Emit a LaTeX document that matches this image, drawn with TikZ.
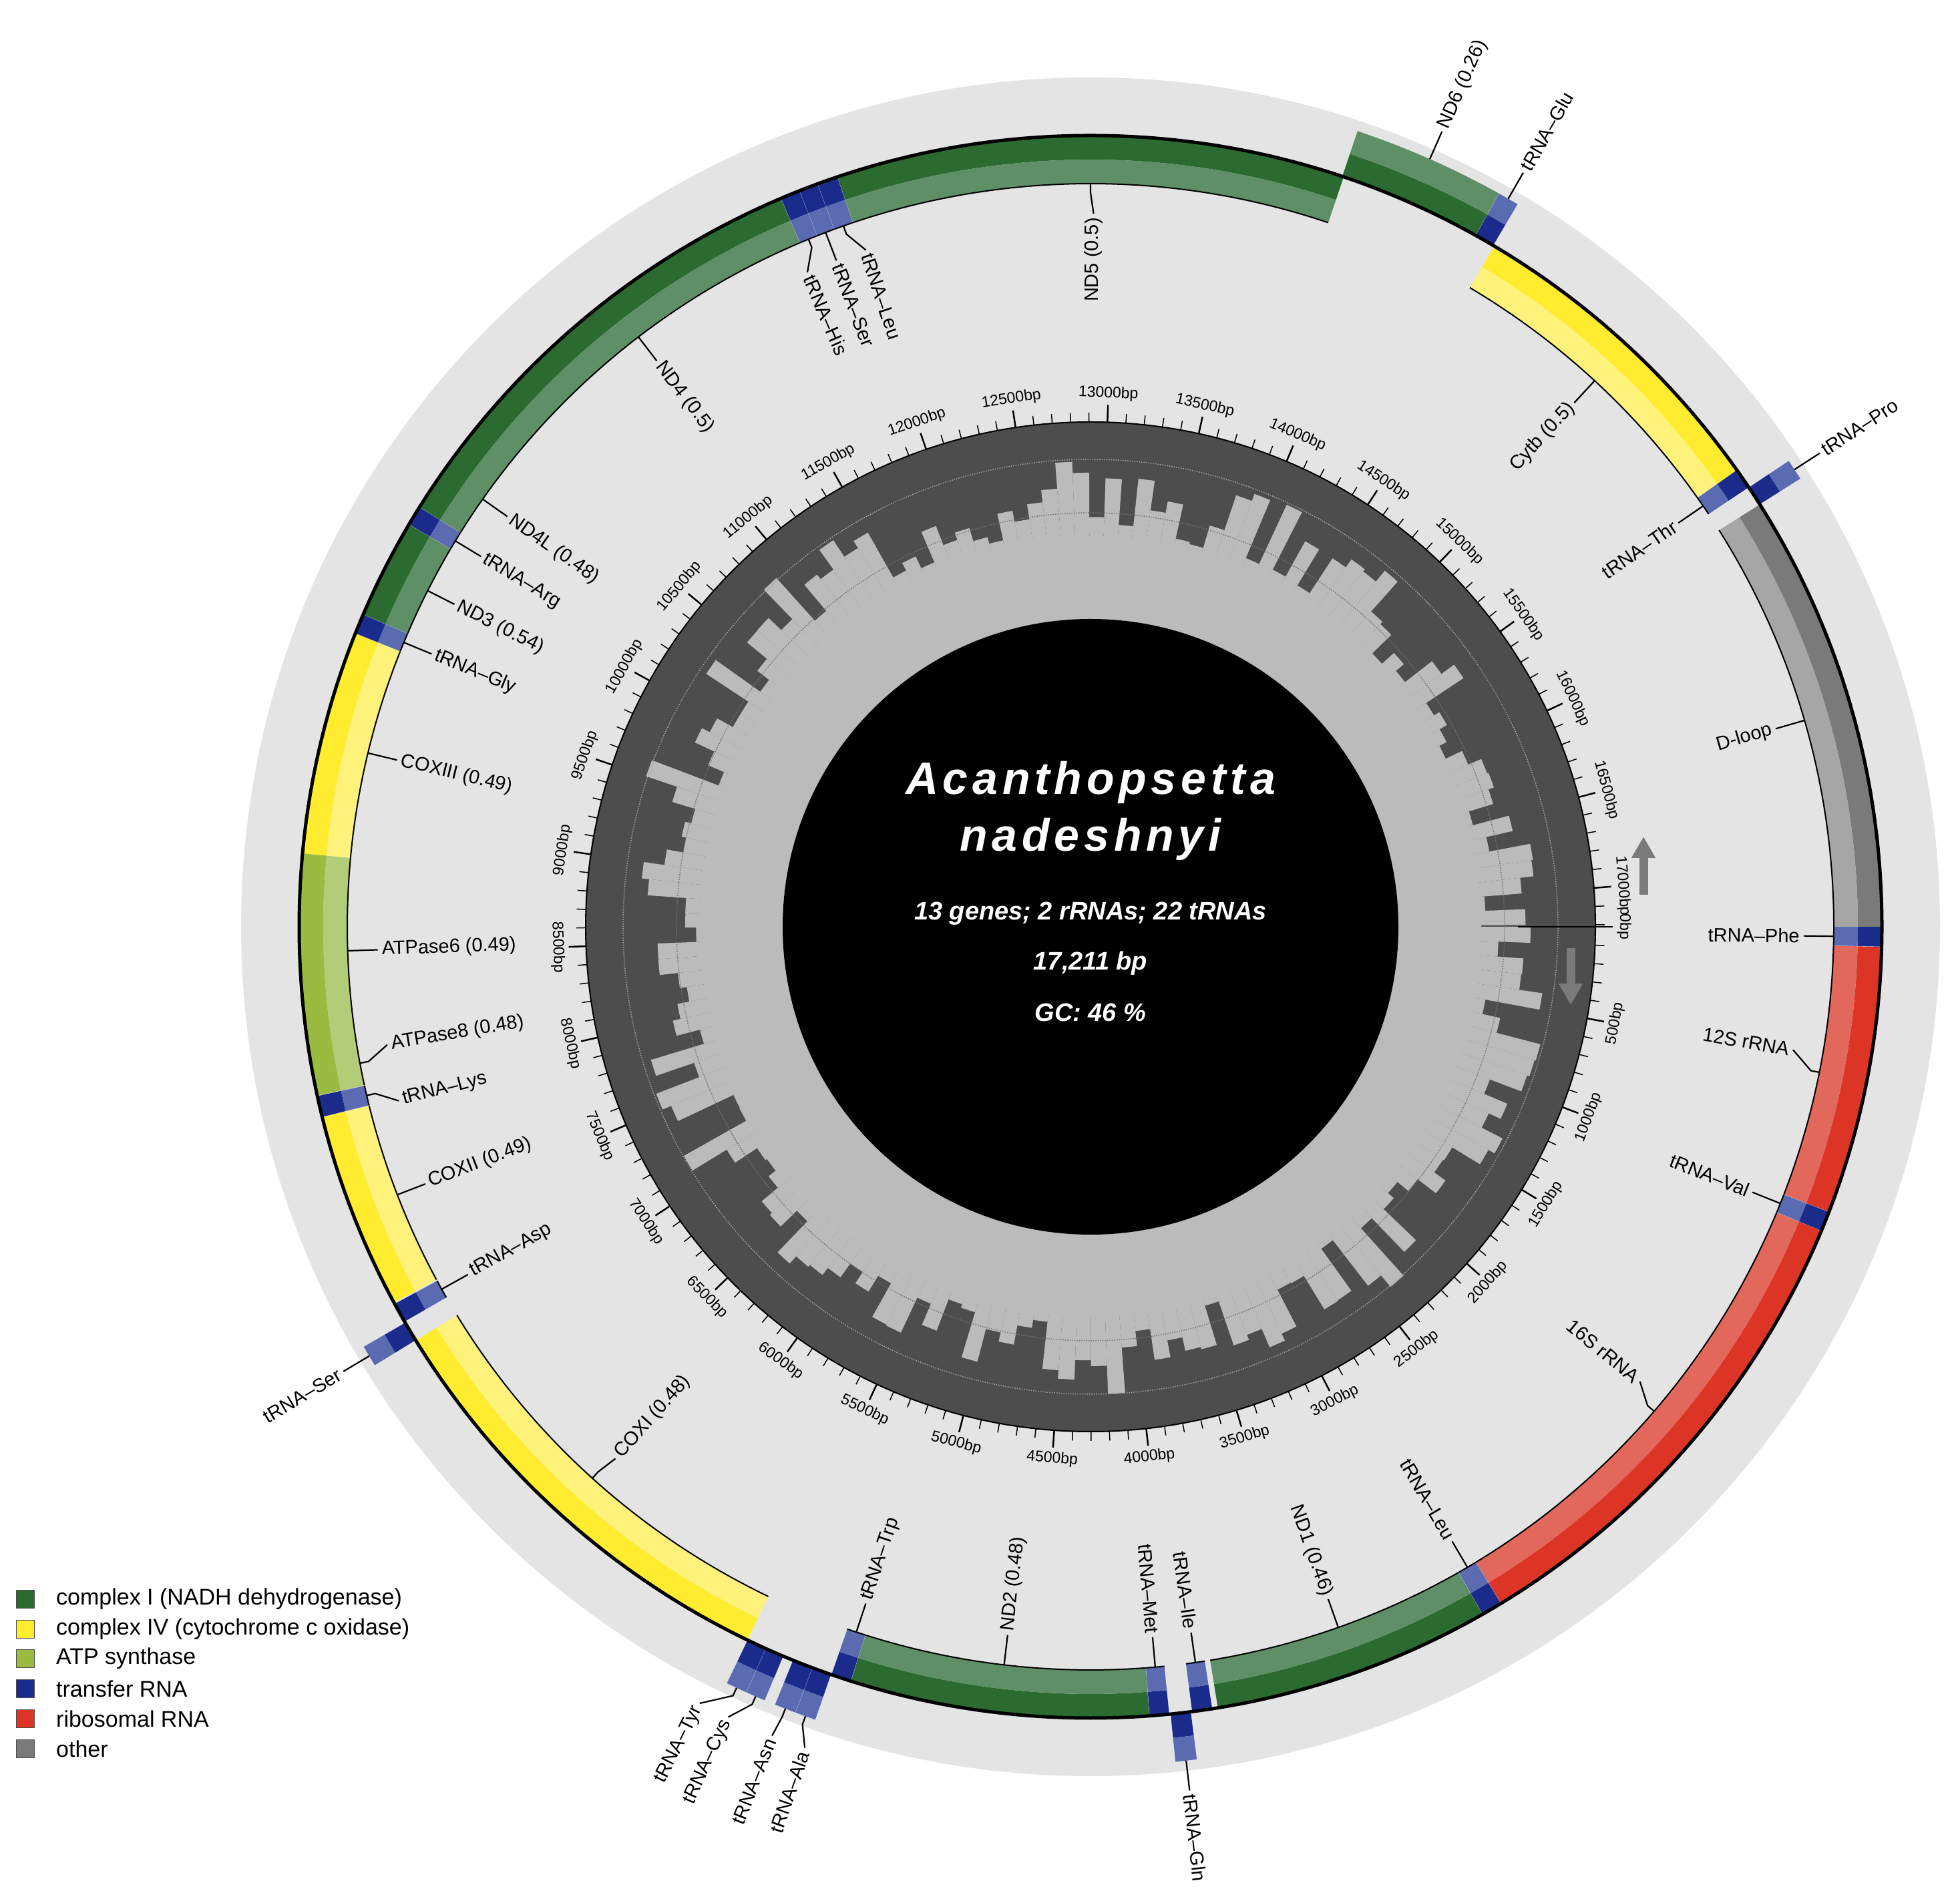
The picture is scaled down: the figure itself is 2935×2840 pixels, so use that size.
\documentclass[tikz,border=0pt]{standalone}
\usepackage{fontspec}
\setmainfont{Liberation Sans}
\usetikzlibrary{arrows.meta}
\definecolor{bgring}{HTML}{E4E4E4}
\definecolor{c1d}{HTML}{2B6A30}\definecolor{c1l}{HTML}{5F8F66}
\definecolor{c4d}{HTML}{FFEC2E}\definecolor{c4l}{HTML}{FFF27A}
\definecolor{atd}{HTML}{9ABB3F}\definecolor{atl}{HTML}{B3CC78}
\definecolor{trd}{HTML}{1B2B8C}\definecolor{trl}{HTML}{5A6BB2}
\definecolor{rrd}{HTML}{DC3526}\definecolor{rrl}{HTML}{E2685B}
\definecolor{otd}{HTML}{7A7A7A}\definecolor{otl}{HTML}{A6A6A6}
\definecolor{gcdark}{HTML}{4D4D4D}\definecolor{gclight}{HTML}{BBBBBB}
\newcommand\sect[5]{\fill[#5] (#1:#3pt) arc[start angle=#1,end angle=#2,radius=#3pt] -- (#2:#4pt) arc[start angle=#2,end angle=#1,radius=#4pt] -- cycle;}
\newcommand\gbar[5]{%
 \edef\ga{\fpeval{round(-(#1)*360/17211,4)}}%
 \edef\gb{\fpeval{round(-(#2)*360/17211,4)}}%
 \ifnum#3=1
  \sect{\ga}{\gb}{1149}{1185}{#4}\sect{\ga}{\gb}{1113}{1149}{#5}%
  \draw[line width=2pt] (\ga:1113pt) arc[start angle=\ga,end angle=\gb,radius=1113pt];
 \else
  \sect{\ga}{\gb}{1185}{1221}{#4}\sect{\ga}{\gb}{1221}{1257}{#5}%
 \fi}
\newcommand\glab[5]{%
 \edef\ga{\fpeval{round(-(#2)*360/17211,4)}}%
 \edef\la{\fpeval{round(-(#3)*360/17211,4)}}%
 \pgfmathsetmacro\lan{mod(\la+720,360)}%
 \pgfmathtruncatemacro\isr{(\lan<=90.5 || \lan>=270) ? 1 : 0}%
 \pgfmathsetmacro\rr{\la+180}%
 \ifnum#5=1
  \ifnum\isr=1 \node[glabel,anchor=east,rotate=\la] (#1) at (\la:1068pt) {#4};
   \draw[leader] (\ga:1113pt) -- (\ga:1100pt) -- (#1.east);
  \else \node[glabel,anchor=west,rotate=\rr] (#1) at (\la:1068pt) {#4};
   \draw[leader] (\ga:1113pt) -- (\ga:1100pt) -- (#1.west);
  \fi
 \else
  \ifnum\isr=1 \node[glabel,anchor=west,rotate=\la] (#1) at (\la:1302pt) {#4};
   \draw[leader] (\ga:1257pt) -- (\ga:1270pt) -- (#1.west);
  \else \node[glabel,anchor=east,rotate=\rr] (#1) at (\la:1302pt) {#4};
   \draw[leader] (\ga:1257pt) -- (\ga:1270pt) -- (#1.east);
  \fi
 \fi}
\begin{document}
\begin{tikzpicture}[x=1pt,y=1pt,
 glabel/.style={inner sep=6pt,font=\fontsize{29}{34}\selectfont},
 leader/.style={line width=2.2pt},
 ticklab/.style={inner sep=2pt,font=\fontsize{23}{27}\selectfont},
 legbox/.style={draw=black!70,line width=1pt,minimum size=27pt,inner sep=0pt},
 legtext/.style={anchor=west,inner sep=0pt,font=\fontsize{34}{40}\selectfont},
 ctext/.style={font=\bfseries\itshape\fontsize{38}{44}\selectfont,text=white}]
\useasboundingbox (0,0) rectangle (2935,2840);
\fill[white] (0,0) rectangle (2935,2840);
\begin{scope}[shift={(1633,1452)}]
\fill[bgring] (0,0) circle[radius=1272pt];
% GC content
\fill[gcdark] (0,0) circle[radius=756pt];
\pgfmathsetseed{42}
\foreach \i in {0,...,171}{
 \edef\ba{\fpeval{round(-\i*100*360/17211,4)}}
 \edef\bb{\fpeval{round(-(\i+1)*100*360/17211,4)}}
 \pgfmathsetmacro\br{645+58*rand}
 \sect{\ba}{\bb}{461}{\br}{gclight}
}
\fill[gclight] (0,0) circle[radius=585pt];
\draw[black!55,dotted,line width=1.5pt] (0,0) circle[radius=620pt];
\draw[black!35,dotted,line width=1.5pt] (0,0) circle[radius=700pt];
\fill[black] (0,0) circle[radius=461pt];
\draw[line width=2.5pt] (0:640pt) -- (0:756pt);
\draw[line width=2pt] (0,0) circle[radius=756pt];
\foreach \k in {0,...,172}{
 \edef\ta{\fpeval{round(-\k*100*360/17211,4)}}
 \pgfmathtruncatemacro\mj{mod(\k,5)==0 ? 1 : 0}
 \ifnum\mj=1 \draw[line width=2.5pt] (\ta:756pt) -- (\ta:782pt);
 \else \draw[line width=1.5pt] (\ta:756pt) -- (\ta:770pt); \fi
}
\foreach \k in {0,5,...,170}{
 \edef\bp{\fpeval{\k*100}}
 \edef\ta{\fpeval{round(-\k*100*360/17211,4)}}
 \pgfmathsetmacro\tn{mod(\ta+720,360)}
 \pgfmathtruncatemacro\up{\tn<=180.5 ? 1 : 0}
 \ifnum\up=1 \pgfmathsetmacro\rot{\ta-90}
  \node[ticklab,anchor=south,rotate=\rot] (t\k) at (\ta:786pt) {\bp bp};
 \else \pgfmathsetmacro\rot{\ta+90}
  \node[ticklab,anchor=north,rotate=\rot] (t\k) at (\ta:786pt) {\bp bp};
 \fi
}
% strand arrows
\draw[otd,line width=13pt,-{Triangle[length=32pt,width=34pt]}] (828,48) -- (828,135);
\draw[otd,line width=13pt,-{Triangle[length=32pt,width=34pt]}] (719,-32) -- (719,-117);
% genes
\gbar{0}{69}{1}{trd}{trl}
\gbar{70}{1009}{1}{rrd}{rrl}
\gbar{1010}{1080}{1}{trd}{trl}
\gbar{1081}{2809}{1}{rrd}{rrl}
\gbar{2810}{2883}{1}{trd}{trl}
\gbar{2884}{3860}{1}{c1d}{c1l}
\gbar{3880}{3950}{1}{trd}{trl}
\gbar{3955}{4025}{0}{trd}{trl}
\gbar{4030}{4098}{1}{trd}{trl}
\gbar{4099}{5145}{1}{c1d}{c1l}
\gbar{5146}{5216}{1}{trd}{trl}
\gbar{5218}{5286}{0}{trd}{trl}
\gbar{5287}{5358}{0}{trd}{trl}
\gbar{5395}{5460}{0}{trd}{trl}
\gbar{5461}{5530}{0}{trd}{trl}
\gbar{5531}{7099}{1}{c4d}{c4l}
\gbar{7100}{7170}{0}{trd}{trl}
\gbar{7175}{7245}{1}{trd}{trl}
\gbar{7250}{7940}{1}{c4d}{c4l}
\gbar{7941}{8015}{1}{trd}{trl}
\gbar{8017}{8185}{1}{atd}{atl}
\gbar{8175}{8860}{1}{atd}{atl}
\gbar{8860}{9645}{1}{c4d}{c4l}
\gbar{9646}{9716}{1}{trd}{trl}
\gbar{9717}{10066}{1}{c1d}{c1l}
\gbar{10067}{10136}{1}{trd}{trl}
\gbar{10137}{10433}{1}{c1d}{c1l}
\gbar{10427}{11807}{1}{c1d}{c1l}
\gbar{11808}{11876}{1}{trd}{trl}
\gbar{11877}{11943}{1}{trd}{trl}
\gbar{11944}{12016}{1}{trd}{trl}
\gbar{12017}{13800}{1}{c1d}{c1l}
\gbar{13795}{14300}{0}{c1d}{c1l}
\gbar{14301}{14370}{0}{trd}{trl}
\gbar{14375}{15525}{1}{c4d}{c4l}
\gbar{15526}{15598}{1}{trd}{trl}
\gbar{15599}{15668}{0}{trd}{trl}
\gbar{15669}{17211}{1}{otd}{otl}
\draw[line width=5pt] (0,0) circle[radius=1185pt];
% labels
\glab{phe}{35}{35}{tRNA–Phe}{1}
\glab{s12}{540}{475}{12S rRNA}{1}
\glab{val}{1045}{1045}{tRNA–Val}{1}
\glab{s16}{1945}{1894}{16S rRNA}{1}
\glab{leua}{2846}{2846}{tRNA–Leu}{1}
\glab{nda}{3372}{3372}{ND1 (0.46)}{1}
\glab{ile}{3915}{3915}{tRNA–Ile}{1}
\glab{gln}{3990}{3990}{tRNA–Gln}{0}
\glab{met}{4064}{4064}{tRNA–Met}{1}
\glab{ndb}{4622}{4622}{ND2 (0.48)}{1}
\glab{trp}{5181}{5181}{tRNA–Trp}{1}
\glab{ala}{5252}{5220}{tRNA–Ala}{0}
\glab{asn}{5322}{5330}{tRNA–Asn}{0}
\glab{cys}{5427}{5480}{tRNA–Cys}{0}
\glab{tyr}{5495}{5580}{tRNA–Tyr}{0}
\glab{coa}{6315}{6300}{COXI (0.48)}{1}
\glab{sera}{7135}{7135}{tRNA–Ser}{0}
\glab{asp}{7210}{7210}{tRNA–Asp}{1}
\glab{cob}{7595}{7595}{COXII (0.49)}{1}
\glab{lys}{7978}{7930}{tRNA–Lys}{1}
\glab{ate}{8100}{8150}{ATPase8 (0.48)}{1}
\glab{ats}{8517}{8517}{ATPase6 (0.49)}{1}
\glab{coc}{9252}{9252}{COXIII (0.49)}{1}
\glab{gly}{9681}{9681}{tRNA–Gly}{1}
\glab{ndc}{9891}{9891}{ND3 (0.54)}{1}
\glab{arg}{10101}{10101}{tRNA–Arg}{1}
\glab{ndl}{10285}{10285}{ND4L (0.48)}{1}
\glab{ndd}{11117}{11117}{ND4 (0.5)}{1}
\glab{his}{11842}{11790}{tRNA–His}{1}
\glab{serb}{11910}{11910}{tRNA–Ser}{1}
\glab{leub}{11980}{12030}{tRNA–Leu}{1}
\glab{nde}{12908}{12920}{ND5 (0.5)}{1}
\glab{ndf}{14048}{14048}{ND6 (0.26)}{0}
\glab{glu}{14335}{14335}{tRNA–Glu}{0}
\glab{cytb}{14950}{14950}{Cytb (0.5)}{1}
\glab{thr}{15562}{15562}{tRNA–Thr}{1}
\glab{pro}{15633}{15633}{tRNA–Pro}{0}
\glab{dloop}{16440}{16440}{D-loop}{1}
% centre text
\node[font=\bfseries\itshape\fontsize{68}{80}\selectfont\addfontfeatures{LetterSpace=10},text=white] (sp1) at (0,216) {Acanthopsetta};
\node[font=\bfseries\itshape\fontsize{68}{80}\selectfont\addfontfeatures{LetterSpace=10},text=white] (sp2) at (0,131) {nadeshnyi};
\node[ctext] (info1) at (0,20) {13 genes; 2 rRNAs; 22 tRNAs};
\node[ctext] (info2) at (0,-55) {17,211 bp};
\node[ctext] (info3) at (0,-128) {GC: 46 \%};
\end{scope}
% legend
\node[legbox,fill=c1d] (l1) at (38,445) {};
\node[legbox,fill=c4d] (l2) at (38,400) {};
\node[legbox,fill=atd] (l3) at (38,356) {};
\node[legbox,fill=trd] (l4) at (38,311) {};
\node[legbox,fill=rrd] (l5) at (38,266) {};
\node[legbox,fill=otd] (l6) at (38,221) {};
\node[legtext] (lt1) at (84,445) {complex I (NADH dehydrogenase)};
\node[legtext] (lt2) at (84,400) {complex IV (cytochrome c oxidase)};
\node[legtext] (lt3) at (84,356) {ATP synthase};
\node[legtext] (lt4) at (84,311) {transfer RNA};
\node[legtext] (lt5) at (84,266) {ribosomal RNA};
\node[legtext] (lt6) at (84,221) {other};
\end{tikzpicture}
\end{document}
